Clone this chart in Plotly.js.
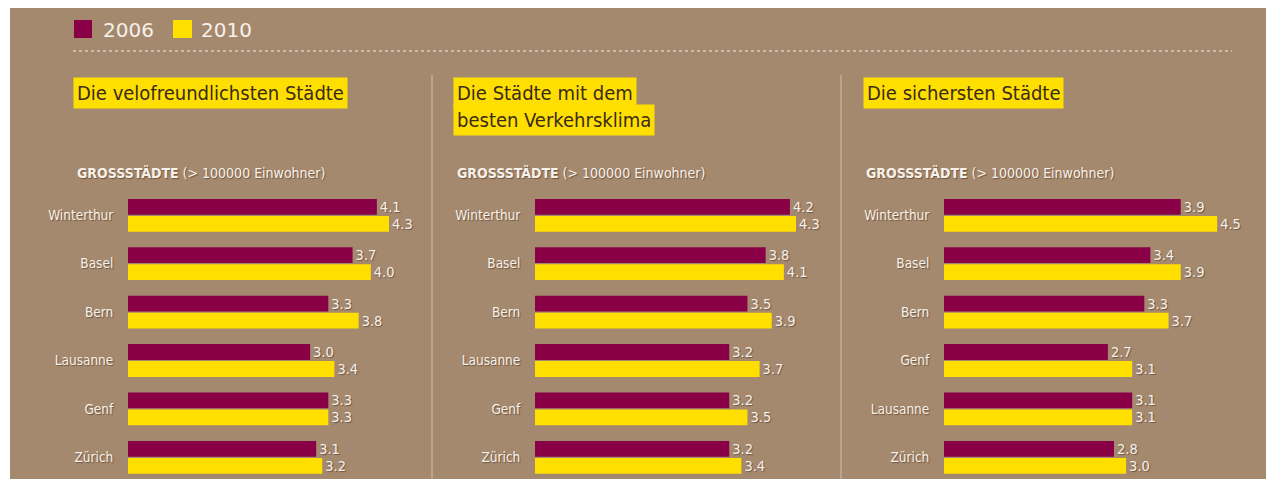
<!DOCTYPE html>
<html>
<head>
<meta charset="utf-8">
<script src="https://cdn.plot.ly/plotly-3.0.1.min.js"></script>
<style>html,body{margin:0;padding:0;background:#fff;}#chart{width:1266px;height:479px;}</style>
</head>
<body>
<div id="chart"></div>
<script>
// ---- data ----
const series = ['2006', '2010'];
const cities1 = ['Winterthur', 'Basel', 'Bern', 'Lausanne', 'Genf', 'Zürich'];
const v1_2006 = [4.1, 3.7, 3.3, 3.0, 3.3, 3.1];
const v1_2010 = [4.3, 4.0, 3.8, 3.4, 3.3, 3.2];
const cities2 = ['Winterthur', 'Basel', 'Bern', 'Lausanne', 'Genf', 'Zürich'];
const v2_2006 = [4.2, 3.8, 3.5, 3.2, 3.2, 3.2];
const v2_2010 = [4.3, 4.1, 3.9, 3.7, 3.5, 3.4];
const cities3 = ['Winterthur', 'Basel', 'Bern', 'Genf', 'Lausanne', 'Zürich'];
const v3_2006 = [3.9, 3.4, 3.3, 2.7, 3.1, 2.8];
const v3_2010 = [4.5, 3.9, 3.7, 3.1, 3.1, 3.0];
const titles = [['Die velofreundlichsten Städte'], ['Die Städte mit dem', 'besten Verkehrsklima'], ['Die sichersten Städte']];
const subtitleBold = 'GROSSSTÄDTE';
const subtitleRest = '(> 100000 Einwohner)';

// ---- style ----
const W = 1266, H = 479;
const BG = '#a5896f';
const C06 = '#8a0046';
const C10 = '#ffdf00';
const LIGHT = '#f6f1ea';
const FONT = '"DejaVu Sans Condensed", "DejaVu Sans", sans-serif';
const SHADOW = '1px 1px 1px rgba(70,45,25,0.55)';
const fx = p => p / W;
const fy = p => 1 - p / H;
const PXU = 60.7; // px per unit

const panels = [
  {cats: cities1, a: v1_2006, b: v1_2010, x0: 128, x1: 426, tx: 73, sx: 75},
  {cats: cities2, a: v2_2006, b: v2_2010, x0: 535, x1: 833, tx: 453, sx: 455},
  {cats: cities3, a: v3_2006, b: v3_2010, x0: 944, x1: 1242, tx: 863, sx: 864}
];

// y geometry: plot top at 190px, first category centre at 215.3px, pitch 48.4px
const plotTop = 190, pitch = 48.4, firstC = 215.3;
const yTopVal = -(firstC - plotTop) / pitch;
const yBotVal = yTopVal + (H - plotTop) / pitch;

const data = [];
const layout = {
  width: W, height: H,
  margin: {l: 0, r: 0, t: 0, b: 0},
  paper_bgcolor: BG,
  plot_bgcolor: 'rgba(0,0,0,0)',
  showlegend: false,
  barmode: 'group',
  bargap: 0.297,
  bargroupgap: 0.07,
  font: {family: FONT, color: LIGHT},
  shapes: [],
  annotations: []
};

panels.forEach((p, i) => {
  const n = i === 0 ? '' : String(i + 1);
  const xa = 'x' + n, ya = 'y' + n;
  [[p.a, C06, series[0]], [p.b, C10, series[1]]].forEach(([vals, col, name]) => {
    data.push({
      type: 'bar', orientation: 'h', name: name,
      x: vals, y: p.cats, xaxis: xa, yaxis: ya,
      marker: {color: col, line: {width: 0}},
      text: vals.map(v => v.toFixed(1)),
      textposition: 'outside',
      constraintext: 'none',
      cliponaxis: false,
      textfont: {family: FONT, size: 14.5, color: LIGHT, shadow: SHADOW},
      hoverinfo: 'skip'
    });
  });
  layout['xaxis' + n] = {
    domain: [fx(p.x0), fx(p.x1)], range: [0, (p.x1 - p.x0) / PXU],
    anchor: ya, showgrid: false, zeroline: false, showline: false,
    showticklabels: false, ticks: '', fixedrange: true
  };
  layout['yaxis' + n] = {
    domain: [0, fy(plotTop)], range: [yBotVal, yTopVal],
    anchor: xa, type: 'category', showgrid: false, zeroline: false, showline: false,
    ticks: 'outside', ticklen: 11, tickcolor: 'rgba(0,0,0,0)',
    tickfont: {family: FONT, size: 13.5, color: LIGHT, shadow: SHADOW},
    fixedrange: true
  };
  // titles with yellow highlight
  titles[i].forEach((t, k) => {
    layout.annotations.push({
      xref: 'paper', yref: 'paper', x: fx(p.tx), y: fy(93 + k * 27),
      xanchor: 'left', yanchor: 'middle', showarrow: false,
      text: t, bgcolor: C10, borderpad: 3,
      font: {family: FONT, size: 20, color: '#3b2b18'}
    });
  });
  // subtitle
  layout.annotations.push({
    xref: 'paper', yref: 'paper', x: fx(p.sx), y: fy(173),
    xanchor: 'left', yanchor: 'middle', showarrow: false,
    text: '<b>' + subtitleBold + '</b> ' + subtitleRest,
    font: {family: FONT, size: 14, color: LIGHT, shadow: SHADOW}
  });
});

// legend (drawn manually)
layout.shapes.push(
  {type: 'rect', xref: 'paper', yref: 'paper', x0: fx(74), x1: fx(92), y0: fy(38), y1: fy(20), fillcolor: C06, line: {width: 0}},
  {type: 'rect', xref: 'paper', yref: 'paper', x0: fx(173), x1: fx(192), y0: fy(38), y1: fy(20), fillcolor: C10, line: {width: 0}},
  // dotted separator under legend
  {type: 'line', xref: 'paper', yref: 'paper', x0: fx(73), x1: fx(1232), y0: fy(51), y1: fy(51), line: {color: 'rgba(235,228,220,0.75)', width: 1.5, dash: 'dot'}},
  // vertical dividers
  {type: 'line', xref: 'paper', yref: 'paper', x0: fx(432), x1: fx(432), y0: fy(75), y1: 0, line: {color: 'rgba(235,228,220,0.6)', width: 1}},
  {type: 'line', xref: 'paper', yref: 'paper', x0: fx(841), x1: fx(841), y0: fy(75), y1: 0, line: {color: 'rgba(235,228,220,0.6)', width: 1}},
  // white border strips (left, top)
  {type: 'rect', xref: 'paper', yref: 'paper', x0: 0, x1: fx(10), y0: 0, y1: 1, fillcolor: '#ffffff', line: {width: 0}},
  {type: 'rect', xref: 'paper', yref: 'paper', x0: 0, x1: 1, y0: fy(8), y1: 1, fillcolor: '#ffffff', line: {width: 0}}
);
layout.annotations.push(
  {xref: 'paper', yref: 'paper', x: fx(101), y: fy(30), xanchor: 'left', yanchor: 'middle', showarrow: false,
   text: series[0], font: {family: '"DejaVu Sans", sans-serif', size: 20, color: LIGHT}},
  {xref: 'paper', yref: 'paper', x: fx(199), y: fy(30), xanchor: 'left', yanchor: 'middle', showarrow: false,
   text: series[1], font: {family: '"DejaVu Sans", sans-serif', size: 20, color: LIGHT}}
);

Plotly.newPlot('chart', data, layout, {displayModeBar: false, staticPlot: true});
</script>
</body>
</html>
